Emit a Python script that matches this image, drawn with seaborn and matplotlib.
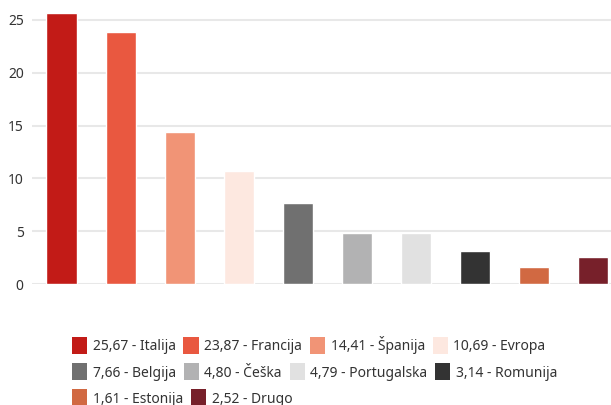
import matplotlib
matplotlib.use("Agg")
import matplotlib.pyplot as plt
import seaborn as sns
from matplotlib.patches import Patch

countries = ["Italija", "Francija", "Španija", "Evropa", "Belgija",
             "Češka", "Portugalska", "Romunija", "Estonija", "Drugo"]
shares = [25.67, 23.87, 14.41, 10.69, 7.66, 4.80, 4.79, 3.14, 1.61, 2.52]
colors = ["#C21B17", "#E95840", "#F19476", "#FDE8E0", "#707070",
          "#B2B2B3", "#E1E1E1", "#333333", "#D16942", "#77202A"]
y_ticks = [0, 5, 10, 15, 20, 25]

sns.set_theme(style="white")
plt.rcParams["font.family"] = ["Noto Sans", "DejaVu Sans"]

fig = plt.figure(figsize=(6.11, 4.05), dpi=100)
W, H = 611, 405
ax = fig.add_axes([32 / W, (H - 284) / H, (W - 32) / W, 280 / H])

sns.barplot(x=countries, y=shares, hue=countries, palette=colors,
            legend=False, width=0.51, saturation=1, ax=ax)

ax.set_xlim(-0.5, 9.3)
ax.set_ylim(0, 26.5)
ax.set_yticks(y_ticks)
ax.set_xticks([])
ax.set_xlabel("")
ax.set_ylabel("")
ax.yaxis.grid(True, color="#e8e8e8", linewidth=1.5)
ax.set_axisbelow(True)
for s in ax.spines.values():
    s.set_visible(False)
ax.tick_params(axis="y", length=0, pad=6, labelsize=10, labelcolor="#333333")

labels = [f"{v:.2f}".replace(".", ",") + f" - {c}" for v, c in zip(shares, countries)]
handles = [Patch(facecolor=col, edgecolor="none") for col in colors]

# legend rows flow left-to-right, so one legend per row
rows = [(0, 4, 345), (4, 8, 372), (8, 10, 398)]
for a, b, yc in rows:
    leg = fig.legend(handles[a:b], labels[a:b], loc="center left",
                     bbox_to_anchor=(72 / W, (H - yc) / H),
                     bbox_transform=fig.transFigure, ncol=b - a,
                     frameon=False, fontsize=10, handlelength=1.1,
                     handleheight=1.5, handletextpad=0.4,
                     columnspacing=0.55, borderpad=0, borderaxespad=0)
    for t in leg.get_texts():
        t.set_color("#333333")

fig.savefig("out.png", dpi=100)
